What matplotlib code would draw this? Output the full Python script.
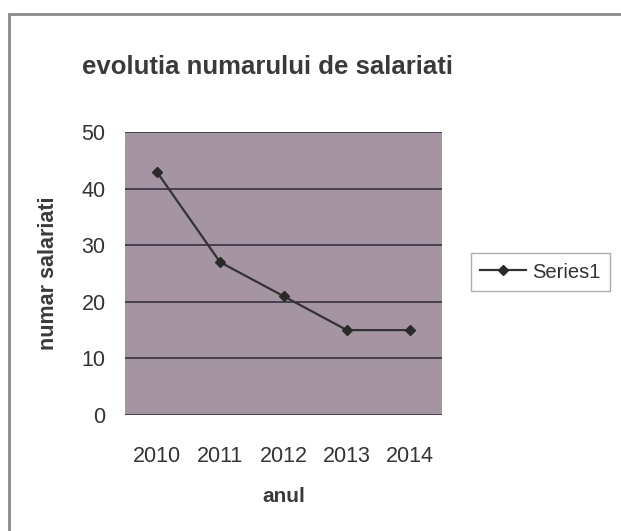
import matplotlib.pyplot as plt
from matplotlib.patches import Rectangle

plt.rcParams['font.family'] = ['Liberation Sans', 'DejaVu Sans']

years = ['2010', '2011', '2012', '2013', '2014']
salariati = [43, 27, 21, 15, 15]
y_ticks = [0, 10, 20, 30, 40, 50]

fig = plt.figure(figsize=(6.21, 5.31), dpi=100)
fig.patch.set_facecolor('white')

# outer chart frame (bottom and right edges fall outside the scan)
fig.add_artist(Rectangle((9/621, -20/531), 640/621, (531 - 14 + 20)/531,
                         transform=fig.transFigure, fill=False,
                         edgecolor='#8a8a8a', lw=2))

ax = fig.add_axes([125/621, 1 - 415/531, 317/621, 283/531])
ax.set_facecolor('#a595a2')
x = list(range(len(years)))
ax.plot(x, salariati, color='#333333', lw=1.6, marker='D', markersize=5,
        markerfacecolor='#2a2a2a', markeredgecolor='#2a2a2a', label='Series1', zorder=3)

ax.set_xlim(-0.5, len(years) - 0.5)
ax.set_ylim(0, 50)
ax.set_yticks(y_ticks)
ax.set_xticks(x)
ax.set_xticklabels(years)
ax.yaxis.grid(True, color='#3a3040', lw=1.2)
ax.set_axisbelow(True)
for s in ax.spines.values():
    s.set_visible(False)
ax.tick_params(axis='both', length=0, labelsize=15.5, colors='#333333')
ax.tick_params(axis='y', pad=14)
ax.tick_params(axis='x', pad=22)

ax.set_title('evolutia numarului de salariati', fontsize=18.5, fontweight='bold',
             color='#3a3a3a', pad=42, x=0.45)
ax.set_xlabel('anul', fontsize=15, fontweight='bold', color='#3a3a3a', labelpad=15)
ax.set_ylabel('numar salariati', fontsize=15.5, fontweight='bold', color='#3a3a3a', labelpad=16)

fig.legend(loc='center left', bbox_to_anchor=(461/621, 1 - 272/531), frameon=True,
           fancybox=False, edgecolor='#999999', fontsize=14.5, handlelength=2.3,
           borderpad=0.45, handletextpad=0.3, labelcolor='#333333')

fig.savefig('out.png', dpi=100)
